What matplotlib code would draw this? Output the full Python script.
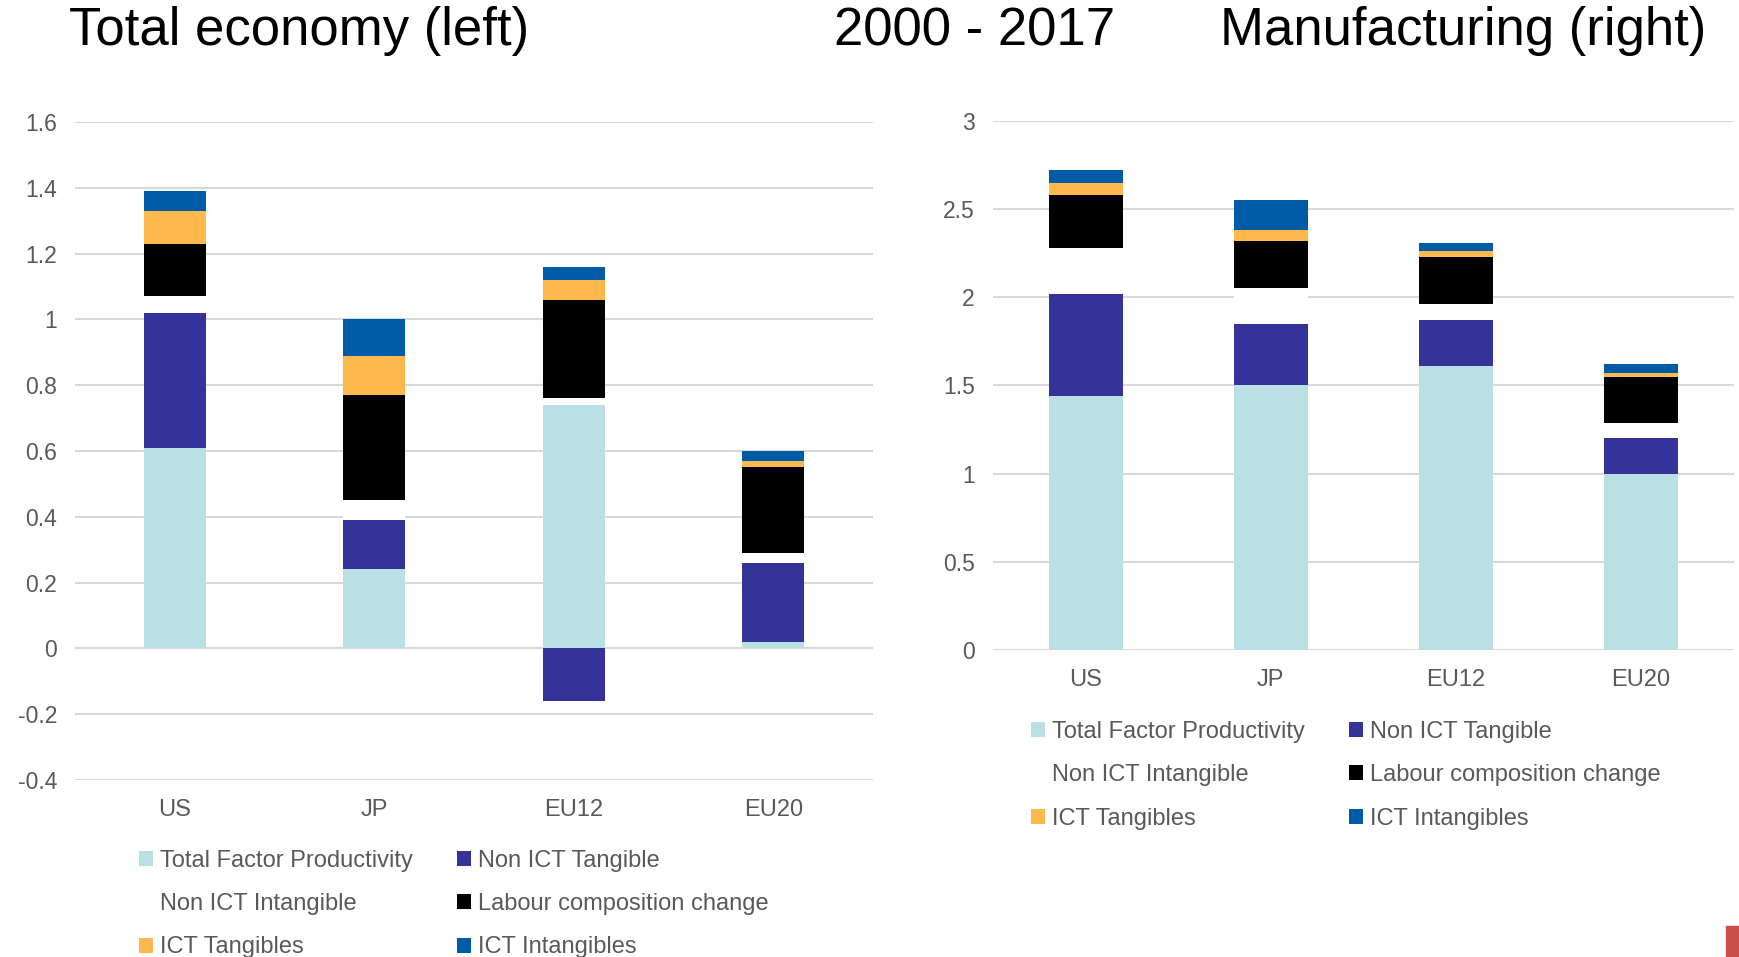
import numpy as np
import matplotlib
matplotlib.use('Agg')
import matplotlib.pyplot as plt
from matplotlib.patches import Rectangle, Patch

plt.rcParams['font.family'] = ['Liberation Sans', 'DejaVu Sans']

# Data
regions = ['US', 'JP', 'EU12', 'EU20']
series = ['Total Factor Productivity', 'Non ICT Tangible', 'Non ICT Intangible',
          'Labour composition change', 'ICT Tangibles', 'ICT Intangibles']
colors = ['#BAE0E3', '#353399', '#FFFFFF', '#000000', '#FDB94D', '#005BA6']

# Total economy (left)
total_tfp = [0.61, 0.24, 0.74, 0.02]
total_non_ict_tang = [0.41, 0.15, -0.16, 0.24]
total_non_ict_intang = [0.05, 0.06, 0.02, 0.03]
total_labour = [0.16, 0.32, 0.30, 0.26]
total_ict_tang = [0.10, 0.12, 0.06, 0.02]
total_ict_intang = [0.06, 0.11, 0.04, 0.03]

# Manufacturing (right)
manu_tfp = [1.44, 1.50, 1.61, 1.00]
manu_non_ict_tang = [0.58, 0.35, 0.26, 0.20]
manu_non_ict_intang = [0.26, 0.20, 0.09, 0.09]
manu_labour = [0.30, 0.27, 0.27, 0.26]
manu_ict_tang = [0.07, 0.06, 0.03, 0.02]
manu_ict_intang = [0.07, 0.17, 0.05, 0.05]

total = [total_tfp, total_non_ict_tang, total_non_ict_intang,
         total_labour, total_ict_tang, total_ict_intang]
manu = [manu_tfp, manu_non_ict_tang, manu_non_ict_intang,
        manu_labour, manu_ict_tang, manu_ict_intang]

text_col = '#595959'
grid_col = '#D9D9D9'


def stacked(ax, data, width):
    x = np.arange(len(regions))
    pos = np.zeros(len(regions))
    neg = np.zeros(len(regions))
    for vals, c in zip(data, colors):
        vals = np.array(vals)
        bottom = np.where(vals >= 0, pos, neg)
        ax.bar(x, vals, width, bottom=bottom, color=c, zorder=3)
        pos = pos + np.where(vals >= 0, vals, 0)
        neg = neg + np.where(vals < 0, vals, 0)
    ax.set_xticks(x)
    ax.set_xticklabels(regions)
    ax.set_xlim(-0.5, len(regions) - 0.5)
    for s in ax.spines.values():
        s.set_visible(False)
    ax.grid(axis='y', color=grid_col, linewidth=1.5, zorder=0)
    ax.tick_params(length=0, labelsize=17, labelcolor=text_col)
    ax.tick_params(axis='y', labelsize=16.5, pad=13)
    ax.tick_params(axis='x', pad=14)


fig = plt.figure(figsize=(17.39, 9.57), dpi=100)

ax1 = fig.add_axes([0.0431, 0.185, 0.459, 0.6876])
stacked(ax1, total, 0.31)
ax1.set_ylim(-0.4, 1.6)
ax1.set_yticks(np.arange(-0.4, 1.61, 0.2))
ax1.set_yticklabels(['-0.4', '-0.2', '0', '0.2', '0.4', '0.6', '0.8', '1', '1.2', '1.4', '1.6'])

ax2 = fig.add_axes([0.571, 0.3208, 0.426, 0.5528])
stacked(ax2, manu, 0.40)
ax2.set_ylim(0, 3)
ax2.set_yticks(np.arange(0, 3.01, 0.5))
ax2.set_yticklabels(['0', '0.5', '1', '1.5', '2', '2.5', '3'])

# legend order: row-wise in the reference, matplotlib fills columns
order = [0, 2, 4, 1, 3, 5]
handles = [Patch(facecolor=colors[i], edgecolor='none') for i in order]
labels = [series[i] for i in order]
for ax, anchor in [(ax1, (139 / 1739, 1 - 850 / 957)), (ax2, (1031 / 1739, 1 - 721 / 957))]:
    fig.legend(handles, labels, ncol=2, loc='upper left', bbox_to_anchor=anchor,
               frameon=False, fontsize=17, labelcolor=text_col, borderpad=0,
               borderaxespad=0, handlelength=0.6, handleheight=0.6,
               handletextpad=0.3, columnspacing=1.85, labelspacing=0.9)

fig.text(69 / 1739, 1 - 31 / 957, 'Total economy (left)', fontsize=38, va='center', color='black')
fig.text(834 / 1739, 1 - 31 / 957, '2000 - 2017', fontsize=38, va='center', color='black')
fig.text(1220 / 1739, 1 - 31 / 957, 'Manufacturing (right)', fontsize=38, va='center', color='black')

fig.patches.append(Rectangle((1726 / 1739, 0), 13 / 1739, 31 / 957,
                             transform=fig.transFigure, color='#C9504A'))

fig.savefig('out.png', dpi=100)
